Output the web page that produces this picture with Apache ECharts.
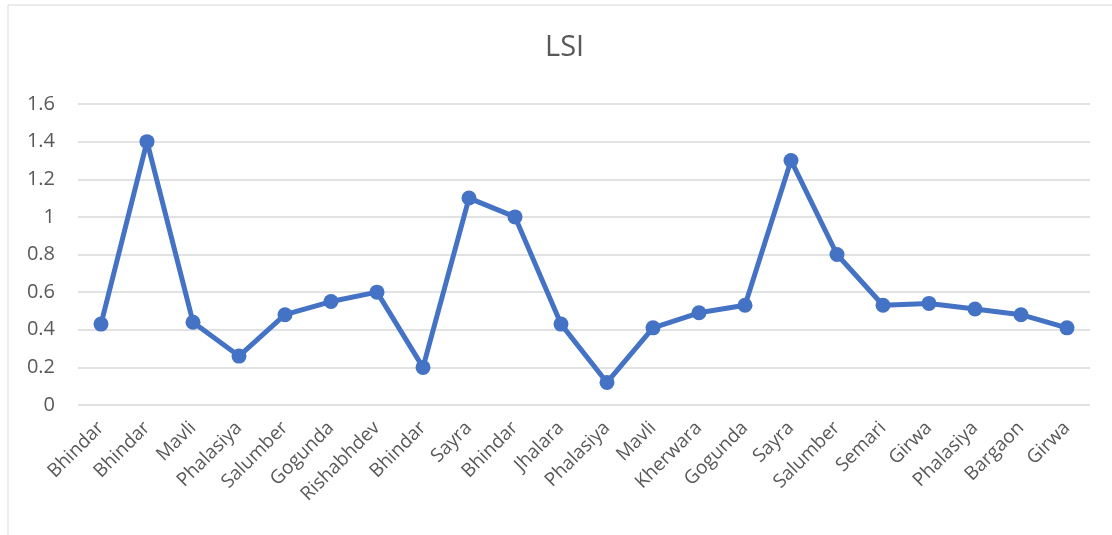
<!DOCTYPE html>
<html>
<head>
<meta charset="utf-8">
<script src="https://cdn.jsdelivr.net/npm/echarts@6/dist/echarts.min.js"></script>
<style>
  html, body { margin: 0; padding: 0; background: #fff; }
  #chart { width: 1112px; height: 535px; }
</style>
</head>
<body>
<div id="chart"></div>
<script>
const categories = [
  "Bhindar", "Bhindar", "Mavli", "Phalasiya", "Salumber", "Gogunda", "Rishabhdev",
  "Bhindar", "Sayra", "Bhindar", "Jhalara", "Phalasiya", "Mavli", "Kherwara",
  "Gogunda", "Sayra", "Salumber", "Semari", "Girwa", "Phalasiya", "Bargaon", "Girwa"
];
const lsiValues = [
  0.43, 1.4, 0.44, 0.26, 0.48, 0.55, 0.6,
  0.2, 1.1, 1.0, 0.43, 0.12, 0.41, 0.49,
  0.53, 1.3, 0.8, 0.53, 0.54, 0.51, 0.48, 0.41
];

const textColor = "#595959";
const font = "'Open Sans', 'Noto Sans', sans-serif";

const chart = echarts.init(document.getElementById("chart"));

chart.setOption({
  animation: false,
  graphic: [
    {
      type: "rect",
      shape: { x: 8, y: 5, width: 1200, height: 600 },
      style: { fill: "none", stroke: "#d9d9d9", lineWidth: 1 },
      silent: true
    }
  ],
  title: {
    text: "LSI",
    left: 540,
    top: 28,
    textStyle: { color: textColor, fontSize: 29, fontWeight: "normal", fontFamily: font }
  },
  grid: { left: 78, right: 22, top: 104, bottom: 130 },
  xAxis: {
    type: "category",
    data: categories,
    boundaryGap: true,
    axisLine: { show: false },
    axisTick: { show: false },
    axisLabel: {
      interval: 0,
      rotate: 45,
      margin: 20,
      color: textColor,
      fontSize: 19,
      fontFamily: font
    }
  },
  yAxis: {
    type: "value",
    min: 0,
    max: 1.6,
    interval: 0.2,
    axisLine: { show: false },
    axisTick: { show: false },
    axisLabel: {
      margin: 23,
      color: textColor,
      fontSize: 20,
      fontFamily: font,
      formatter: (v) => String(Math.round(v * 10) / 10)
    },
    splitLine: { lineStyle: { color: "#d9d9d9", width: 1.5 } }
  },
  series: [
    {
      name: "LSI",
      type: "line",
      data: lsiValues,
      symbol: "circle",
      symbolSize: 15,
      itemStyle: { color: "#4472C4" },
      lineStyle: { color: "#4472C4", width: 5 }
    }
  ]
});
</script>
</body>
</html>
